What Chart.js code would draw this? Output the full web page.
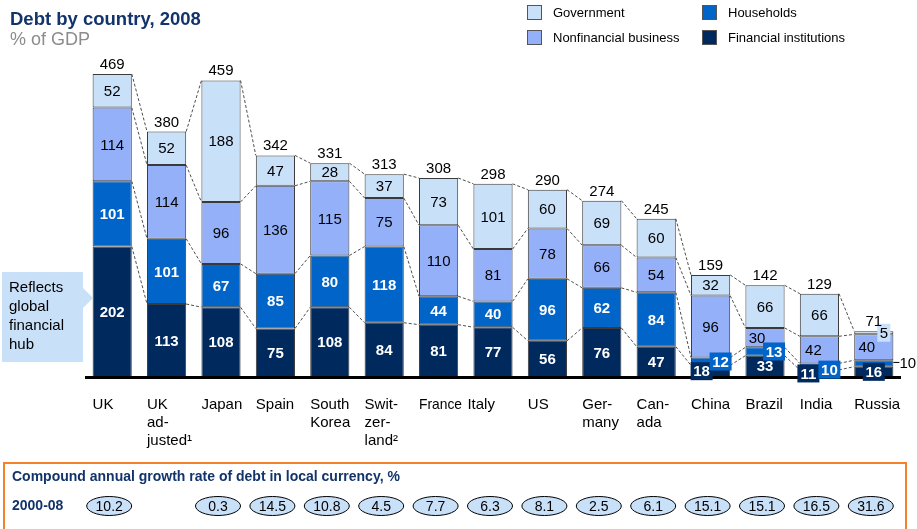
<!DOCTYPE html>
<html>
<head>
<meta charset="utf-8">
<script src="https://cdn.jsdelivr.net/npm/chart.js@4/dist/chart.umd.min.js"></script>
<style>
  body { margin: 0; background: #fff; }
  canvas { display: block; }
</style>
</head>
<body>
<canvas id="debtChart" width="917" height="529"></canvas>
<script>
// Debt by country, 2008 (% of GDP)
const categories = ['UK', ['UK', 'ad-', 'justed¹'], 'Japan', 'Spain', ['South', 'Korea'], ['Swit-', 'zer-', 'land²'],
  'France', 'Italy', 'US', ['Ger-', 'many'], ['Can-', 'ada'], 'China', 'Brazil', 'India', 'Russia'];
const financial = [202, 113, 108, 75, 108, 84, 81, 77, 56, 76, 47, 18, 33, 11, 16];
const households = [101, 101, 67, 85, 80, 118, 44, 40, 96, 62, 84, 12, 13, 10, 10];
const nonfinancial = [114, 114, 96, 136, 115, 75, 110, 81, 78, 66, 54, 96, 30, 42, 40];
const government = [52, 52, 188, 47, 28, 37, 73, 101, 60, 69, 60, 32, 66, 66, 5];
const totals = [469, 380, 459, 342, 331, 313, 308, 298, 290, 274, 245, 159, 142, 129, 71];
const cagr = ['10.2', null, '0.3', '14.5', '10.8', '4.5', '7.7', '6.3', '8.1', '2.5', '6.1', '15.1', '15.1', '16.5', '31.6'];

const FONT = '"Liberation Sans", Arial, sans-serif';
const NAVY = '#12346b';
const colors = { gov: '#c9e0f9', nfb: '#94b0f8', hh: '#0064c8', fi: '#00295e' };

// label tweaks for the thin segments: [dataset, index] -> offset / boxed
const labelTweaks = {
  '0-11': { dx: -9, box: true }, '1-11': { dx: 10, box: true },
  '1-12': { dx: 9, box: true }, '2-12': { dx: -8 },
  '0-13': { dx: -11, box: true }, '1-13': { dx: 10, dy: 3, box: true }, '2-13': { dx: -6 },
  '0-14': { dx: 0, box: true }, '1-14': { outside: true }, '2-14': { dx: -7 }, '3-14': { dx: 10, box: true, w: 13 }
};

const extras = {
  id: 'extras',
  beforeDatasetsDraw(chart) {
    const ctx = chart.ctx;
    ctx.save();
    ctx.strokeStyle = '#222';
    ctx.lineWidth = 0.8;
    ctx.setLineDash([3, 2]);
    for (let d = 0; d < 4; d++) {
      const bars = chart.getDatasetMeta(d).data;
      for (let i = 0; i < bars.length - 1; i++) {
        const a = bars[i], b = bars[i + 1];
        ctx.beginPath();
        ctx.moveTo(a.x + a.width / 2, a.y);
        ctx.lineTo(b.x - b.width / 2, b.y);
        ctx.stroke();
      }
    }
    ctx.restore();
  },
  afterDatasetsDraw(chart) {
    const ctx = chart.ctx;
    const area = chart.chartArea;
    const y0 = chart.scales.y.getPixelForValue(0);
    ctx.save();

    // baseline
    ctx.fillStyle = '#000';
    ctx.fillRect(area.left, y0 - 1, area.right - area.left, 3);

    // segment values
    ctx.textAlign = 'center';
    ctx.textBaseline = 'middle';
    chart.data.datasets.forEach((ds, d) => {
      const bars = chart.getDatasetMeta(d).data;
      bars.forEach((bar, i) => {
        const t = labelTweaks[d + '-' + i] || {};
        let x = bar.x + (t.dx || 0);
        let y = (bar.y + bar.base) / 2 + (t.dy || 0);
        const dark = d < 2;
        const txt = String(ds.data[i]);
        if (t.outside) {
          ctx.strokeStyle = '#000';
          ctx.lineWidth = 1;
          ctx.beginPath();
          ctx.moveTo(bar.x + bar.width / 2, y - 1);
          ctx.lineTo(bar.x + bar.width / 2 + 6, y - 1);
          ctx.stroke();
          ctx.fillStyle = '#000';
          ctx.font = '15px ' + FONT;
          ctx.textAlign = 'left';
          ctx.fillText(txt, bar.x + bar.width / 2 + 6, y);
          ctx.textAlign = 'center';
          return;
        }
        if (t.box) {
          const w = t.w || 22;
          ctx.fillStyle = ds.backgroundColor;
          ctx.fillRect(x - w / 2, y - 9, w, 18);
        }
        ctx.fillStyle = dark ? '#fff' : '#000';
        ctx.font = (dark ? 'bold ' : '') + '15px ' + FONT;
        ctx.fillText(txt, x, y + 1);
      });
    });

    // totals and category labels
    const top = chart.getDatasetMeta(3).data;
    top.forEach((bar, i) => {
      ctx.fillStyle = '#000';
      ctx.font = '15px ' + FONT;
      ctx.textAlign = 'center';
      ctx.textBaseline = 'alphabetic';
      ctx.fillText(String(totals[i]), bar.x, bar.y - 5);

      const lines = [].concat(categories[i]);
      ctx.textAlign = 'left';
      ctx.textBaseline = 'middle';
      const lx = bar.x - bar.width / 2 + (i === 7 ? -6 : 0);
      lines.forEach((ln, k) => {
        if (i === 6) ctx.fillText(ln, lx, 405 + k * 18, 43);
        else ctx.fillText(ln, lx, 405 + k * 18);
      });
    });

    // callout
    ctx.fillStyle = '#c9e0f9';
    ctx.fillRect(2, 272, 81, 90);
    ctx.beginPath();
    ctx.moveTo(82, 287);
    ctx.lineTo(93, 298);
    ctx.lineTo(82, 309);
    ctx.closePath();
    ctx.fill();
    ctx.fillStyle = '#000';
    ctx.font = '15px ' + FONT;
    ['Reflects', 'global', 'financial', 'hub'].forEach((ln, k) => ctx.fillText(ln, 9, 288 + k * 19));

    // title
    ctx.textBaseline = 'alphabetic';
    ctx.fillStyle = NAVY;
    ctx.font = 'bold 18.5px ' + FONT;
    ctx.fillText('Debt by country, 2008', 10, 25);
    ctx.fillStyle = '#8c8c8c';
    ctx.font = '18px ' + FONT;
    ctx.fillText('% of GDP', 10, 45);

    // legend
    const legend = [
      ['Government', colors.gov, 527, 12], ['Households', colors.hh, 702, 12],
      ['Nonfinancial business', colors.nfb, 527, 37], ['Financial institutions', colors.fi, 702, 37]
    ];
    ctx.font = '13px ' + FONT;
    ctx.textBaseline = 'middle';
    legend.forEach(([name, c, x, y]) => {
      ctx.fillStyle = c;
      ctx.fillRect(x, y - 7, 15, 15);
      ctx.strokeStyle = '#555';
      ctx.lineWidth = 1;
      ctx.strokeRect(x + 0.5, y - 6.5, 14, 14);
      ctx.fillStyle = '#000';
      ctx.fillText(name, x + 26, y + 1);
    });

    // growth-rate box
    ctx.strokeStyle = '#f5822a';
    ctx.lineWidth = 2;
    ctx.strokeRect(4, 463, 902, 80);
    ctx.fillStyle = NAVY;
    ctx.font = 'bold 14px ' + FONT;
    ctx.fillText('Compound annual growth rate of debt in local currency, %', 12, 477);
    ctx.fillText('2000-08', 12, 506);
    ctx.textAlign = 'center';
    ctx.font = '14px ' + FONT;
    top.forEach((bar, i) => {
      if (cagr[i] === null) return;
      const cx = bar.x - 3;
      ctx.beginPath();
      ctx.ellipse(cx, 506, 22.5, 9.5, 0, 0, Math.PI * 2);
      ctx.fillStyle = '#c9e0f9';
      ctx.fill();
      ctx.strokeStyle = '#000';
      ctx.lineWidth = 1;
      ctx.stroke();
      ctx.fillStyle = '#000';
      ctx.fillText(cagr[i], cx, 507);
    });
    ctx.restore();
  }
};

new Chart(document.getElementById('debtChart'), {
  type: 'bar',
  data: {
    labels: categories,
    datasets: [
      { label: 'Financial institutions', data: financial, backgroundColor: colors.fi },
      { label: 'Households', data: households, backgroundColor: colors.hh },
      { label: 'Nonfinancial business', data: nonfinancial, backgroundColor: colors.nfb },
      { label: 'Government', data: government, backgroundColor: colors.gov }
    ]
  },
  options: {
    responsive: false,
    animation: false,
    layout: { padding: { left: 85, right: 16, top: 54, bottom: 152 } },
    datasets: {
      bar: { borderColor: '#3a3a3a', borderWidth: 1, borderSkipped: false, categoryPercentage: 1, barPercentage: 0.72 }
    },
    plugins: { legend: { display: false }, tooltip: { enabled: false } },
    scales: {
      x: { stacked: true, display: false },
      y: { stacked: true, display: false, min: 0, max: 500 }
    }
  },
  plugins: [extras]
});
</script>
</body>
</html>
